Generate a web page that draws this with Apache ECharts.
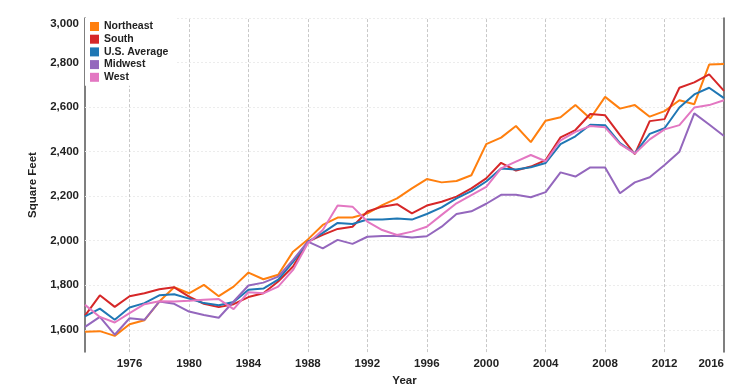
<!DOCTYPE html>
<html>
<head>
<meta charset="utf-8">
<script src="https://cdn.jsdelivr.net/npm/echarts@6/dist/echarts.min.js"></script>
<style>html,body{margin:0;padding:0;background:#fff}#c{width:742px;height:392px}</style>
</head>
<body>
<div id="c"></div>
<script>
const years = [];
for (let y = 1973; y <= 2016; y++) years.push(y);

const northeast = [1591,1594,1573,1625,1643,1727,1791,1764,1802,1751,1794,1857,1827,1847,1951,2006,2071,2104,2104,2123,2160,2190,2235,2277,2262,2268,2294,2434,2463,2515,2443,2539,2554,2609,2549,2646,2593,2609,2557,2582,2631,2613,2791,2793];
const south = [1664,1755,1703,1751,1764,1782,1791,1749,1717,1702,1715,1747,1764,1817,1884,1996,2026,2053,2063,2131,2153,2164,2123,2158,2175,2198,2235,2280,2350,2315,2333,2362,2464,2497,2569,2563,2474,2389,2537,2546,2687,2711,2747,2673];
const usAverage = [1660,1695,1645,1700,1720,1755,1760,1740,1720,1710,1725,1780,1785,1825,1905,1995,2035,2080,2075,2095,2095,2100,2095,2120,2150,2190,2223,2266,2324,2320,2330,2349,2434,2469,2521,2519,2438,2392,2480,2505,2598,2657,2687,2640];
const midwest = [1613,1658,1578,1652,1645,1727,1717,1682,1667,1654,1727,1799,1812,1839,1914,1996,1966,2004,1986,2018,2021,2021,2015,2020,2063,2120,2132,2166,2206,2206,2195,2218,2307,2288,2329,2329,2213,2262,2285,2340,2400,2572,2522,2470];
const west = [1712,1658,1633,1675,1715,1728,1727,1730,1735,1738,1693,1769,1764,1794,1869,1989,2048,2158,2153,2086,2048,2026,2041,2063,2116,2168,2205,2242,2325,2355,2385,2357,2451,2489,2515,2509,2434,2392,2455,2500,2519,2598,2609,2631];

const xTicks = [1976,1980,1984,1988,1992,1996,2000,2004,2008,2012,2016];
const yTicks = [1600,1800,2000,2200,2400,2600,2800,3000];

const seriesNames = ['Northeast','South','U.S. Average','Midwest','West'];
const seriesData = [northeast, south, usAverage, midwest, west];
const colors = ['#ff7f0e','#d62728','#1f77b4','#9467bd','#e377c2'];

const font = 'Liberation Sans, Arial, sans-serif';
const chart = echarts.init(document.getElementById('c'), null, {renderer:'canvas'});

const gridSeries = {
  type: 'line', name: '_grid', data: [], silent: true, z: 1,
  markLine: {
    silent: true, symbol: 'none', animation: false, z: 1,
    label: {show: false},
    data: [
      ...yTicks.map(v => ({yAxis: v, lineStyle: {color: '#ececec', type: [2, 2], width: 1}})),
      ...xTicks.filter(v => v < 2016).map(v => ({xAxis: v, lineStyle: {color: '#c8c8c8', type: [3, 2], width: 1}}))
    ]
  }
};

chart.setOption({
  animation: false,
  color: colors,
  grid: {left: 85, right: 18, top: 18, bottom: 39, containLabel: false},
  legend: {
    data: seriesNames,
    orient: 'vertical',
    left: 85, top: 18,
    padding: [3, 8, 3, 5],
    backgroundColor: '#fff',
    icon: 'rect',
    itemWidth: 9, itemHeight: 9, itemGap: 1.7,
    textStyle: {fontFamily: font, fontWeight: 'bold', fontSize: 10.5, color: '#222'}
  },
  xAxis: {
    type: 'value', min: 1973, max: 2016, interval: 1,
    name: 'Year', nameLocation: 'middle', nameGap: 19,
    nameTextStyle: {fontFamily: font, fontWeight: 'bold', fontSize: 11.5, color: '#222'},
    axisLine: {show: false}, axisTick: {show: false},
    axisLabel: {fontFamily: font, fontWeight: 'bold', fontSize: 11.5, color: '#222', margin: 6,
      alignMaxLabel: 'right', formatter: v => (xTicks.indexOf(v) >= 0 ? String(v) : '')},
    splitLine: {show: false}
  },
  yAxis: [{
    type: 'value', min: 1500, max: 3000, interval: 100,
    name: 'Square Feet', nameLocation: 'middle', nameGap: 46, nameRotate: 90,
    nameTextStyle: {fontFamily: font, fontWeight: 'bold', fontSize: 11.5, color: '#222'},
    axisLine: {show: true, lineStyle: {color: '#555', width: 1.5}},
    axisTick: {show: false},
    axisLabel: {fontFamily: font, fontWeight: 'bold', fontSize: 11.5, color: '#222', margin: 6,
      verticalAlignMaxLabel: 'top',
      formatter: v => (yTicks.indexOf(v) >= 0 ? v.toLocaleString('en-US') : '')},
    splitLine: {show: false}
  }, {
    type: 'value', min: 1500, max: 3000, interval: 100, position: 'right',
    axisLine: {show: true, lineStyle: {color: '#555', width: 1.5}},
    axisTick: {show: false}, axisLabel: {show: false}, splitLine: {show: false}
  }],
  series: [gridSeries].concat(seriesNames.map((n, i) => ({
    name: n, type: 'line', showSymbol: false, symbol: 'none', z: 2,
    data: years.map((y, j) => [y, seriesData[i][j]]),
    lineStyle: {width: 2, color: colors[i]},
    itemStyle: {color: colors[i]}
  })))
});
</script>
</body>
</html>
